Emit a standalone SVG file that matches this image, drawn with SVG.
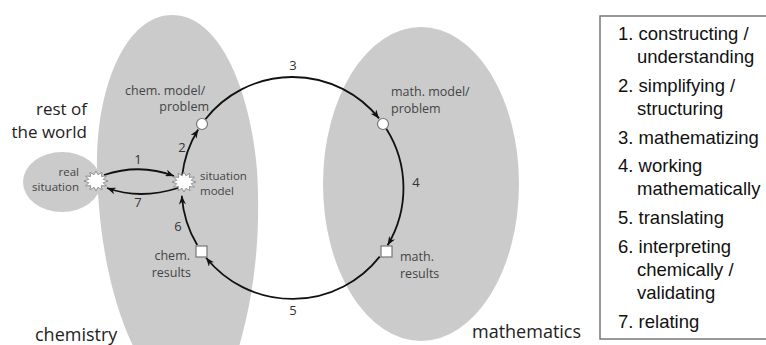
<svg xmlns="http://www.w3.org/2000/svg" xmlns:xlink="http://www.w3.org/1999/xlink" width="766" height="345" viewBox="0 0 766 345">
<style>
.area{fill:#cbcbcb;stroke:none}
.lbl{font-family:"Open Sans","DejaVu Sans",sans-serif;font-size:12.5px;fill:#444}
.sm{font-size:11.5px}
.num{font-family:"Open Sans","DejaVu Sans",sans-serif;font-size:13px;fill:#333;text-anchor:middle}
.big{font-family:"Open Sans","DejaVu Sans",sans-serif;font-size:18px;fill:#222}
.leg{font-family:"Liberation Sans",Arial,sans-serif;font-size:18.5px;fill:#111}
.arc{fill:none;stroke:#111;stroke-width:1.8;marker-end:url(#ah)}
.node{fill:#fff;stroke:#777;stroke-width:1.2}
.star{fill:#fff;stroke:#888;stroke-width:0.9}
</style>
<defs>
<marker id="ah" viewBox="0 0 10 8" refX="10" refY="4" markerWidth="9" markerHeight="7" orient="auto" markerUnits="userSpaceOnUse">
<path d="M0,0 L10,4 L0,8 L3,4 Z" fill="#111"/>
</marker>
<polygon id="starshape" points="12,0 7.2,1.7 10.4,5 5.3,4.6 6,8.7 1.9,6.3 0,10 -1.9,6.3 -6,8.7 -5.3,4.6 -10.4,5 -7.2,1.7 -12,0 -7.2,-1.7 -10.4,-5 -5.3,-4.6 -6,-8.7 -1.9,-6.3 0,-10 1.9,-6.3 6,-8.7 5.3,-4.6 10.4,-5 7.2,-1.7"/>
</defs>
<rect width="766" height="345" fill="#fff"/>

<g id="areas">
<path class="area" d="M97,170 C95,90 125,15 172,15 C220,15 250,90 257,170 C262,250 250,310 238,350 L135,350 C115,310 99,250 97,170 Z"/>
<ellipse class="area" cx="62" cy="182" rx="39" ry="30"/>
<ellipse class="area" cx="421" cy="184" rx="98" ry="157"/>
<text class="big" x="87" y="115" text-anchor="end" style="font-size:17px">rest of</text>
<text class="big" x="87" y="138" text-anchor="end" style="font-size:17px">the world</text>
<text class="big" x="35" y="341">chemistry</text>
<text class="big" x="472" y="338">mathematics</text>
</g>

<g id="connectors">
<path class="arc" d="M104,175 Q140,163 174,176"/>
<path class="arc" d="M178,188 Q140,200 107,188"/>
<path class="arc" d="M182.1,176 A111,111 0 0 1 198.2,129.5"/>
<path class="arc" d="M205.4,119.2 A111,111 0 0 1 379,118.4"/>
<path class="arc" d="M386.3,128.7 A111,111 0 0 1 387.6,245.2"/>
<path class="arc" d="M379.7,256.6 A111,111 0 0 1 206.1,257.7"/>
<path class="arc" d="M197.2,245 A111,111 0 0 1 181.8,195.7"/>
<text class="num" x="138" y="164">1</text>
<text class="num" x="138" y="207">7</text>
<text class="num" x="182" y="152">2</text>
<text class="num" x="293" y="70">3</text>
<text class="num" x="416" y="187">4</text>
<text class="num" x="293" y="315">5</text>
<text class="num" x="178" y="231">6</text>
</g>

<g id="real-situation">
<use xlink:href="#starshape" class="star" x="96" y="181"/>
<text class="lbl sm" x="79" y="176" text-anchor="end">real</text>
<text class="lbl sm" x="79" y="191" text-anchor="end">situation</text>
</g>

<g id="situation-model">
<use xlink:href="#starshape" class="star" x="184" y="182"/>
<text class="lbl sm" x="200" y="180">situation</text>
<text class="lbl sm" x="200" y="195">model</text>
</g>

<g id="chem-model">
<circle class="node" cx="202" cy="124" r="5.5"/>
<text class="lbl" x="125" y="95">chem. model/</text>
<text class="lbl" x="209" y="111" text-anchor="end">problem</text>
</g>

<g id="math-model">
<circle class="node" cx="383" cy="124" r="5.5"/>
<text class="lbl" x="391" y="96">math. model/</text>
<text class="lbl" x="391" y="113">problem</text>
</g>

<g id="math-results">
<rect class="node" x="381" y="246" width="11" height="11"/>
<text class="lbl" x="400" y="261">math.</text>
<text class="lbl" x="400" y="278">results</text>
</g>

<g id="chem-results">
<rect class="node" x="196" y="246" width="11" height="11"/>
<text class="lbl" x="190" y="260" text-anchor="end">chem.</text>
<text class="lbl" x="191" y="277" text-anchor="end">results</text>
</g>

<g id="legend">
<rect x="600" y="16" width="175" height="323" fill="#fff" stroke="#777" stroke-width="1.5"/>
<text class="leg" x="618" y="40">1. constructing /</text>
<text class="leg" x="637" y="63">understanding</text>
<text class="leg" x="618" y="92">2. simplifying /</text>
<text class="leg" x="637" y="115">structuring</text>
<text class="leg" x="618" y="144">3. mathematizing</text>
<text class="leg" x="618" y="172">4. working</text>
<text class="leg" x="637" y="195">mathematically</text>
<text class="leg" x="618" y="224">5. translating</text>
<text class="leg" x="618" y="253">6. interpreting</text>
<text class="leg" x="637" y="276">chemically /</text>
<text class="leg" x="637" y="299">validating</text>
<text class="leg" x="618" y="328">7. relating</text>
</g>
</svg>
